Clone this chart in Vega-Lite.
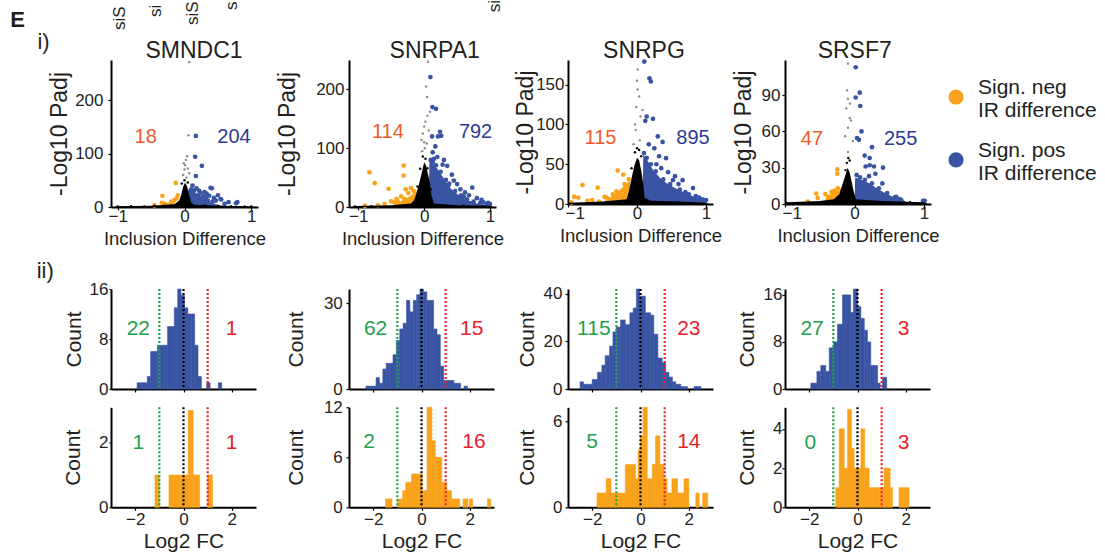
{
"$schema": "https://vega.github.io/schema/vega-lite/v6.json",
"padding": {"left": 10, "top": 0, "right": 3, "bottom": 4},
"config": {
  "font": "Liberation Sans",
  "view": {"stroke": null},
  "axis": {"grid": false, "domainColor": "#000000", "domainWidth": 2, "tickColor": "#000000", "tickWidth": 1.2, "tickSize": 3, "labelFontSize": 17, "labelColor": "#231f20", "titleColor": "#231f20", "titleFontWeight": "normal", "zindex": 1, "labelFlush": false, "labelOverlap": false, "format": "d"}
},
"datasets": {
  "vp": [
    {"p":"SMNDC1","g":"pos","x":0.17,"y":133},{"p":"SMNDC1","g":"pos","x":0.16,"y":94},{"p":"SMNDC1","g":"pos","x":0.26,"y":77},{"p":"SMNDC1","g":"pos","x":0.17,"y":58},{"p":"SMNDC1","g":"pos","x":0.39,"y":36},{"p":"SMNDC1","g":"pos","x":0.55,"y":14},{"p":"SMNDC1","g":"pos","x":0.77,"y":7},{"p":"SMNDC1","g":"pos","x":0.41,"y":35},{"p":"SMNDC1","g":"pos","x":0.37,"y":21},{"p":"SMNDC1","g":"pos","x":0.44,"y":17},{"p":"SMNDC1","g":"pos","x":0.54,"y":15},{"p":"SMNDC1","g":"pos","x":0.66,"y":9},{"p":"SMNDC1","g":"pos","x":0.79,"y":9},{"p":"SMNDC1","g":"pos","x":0.3,"y":28},{"p":"SMNDC1","g":"pos","x":0.22,"y":30},{"p":"SMNDC1","g":"pos","x":0.12,"y":40},{"p":"SMNDC1","g":"pos","x":0.2,"y":22},{"p":"SMNDC1","g":"pos","x":0.28,"y":20},{"p":"SMNDC1","g":"pos","x":0.33,"y":25},{"p":"SMNDC1","g":"pos","x":0.47,"y":12},{"p":"SMNDC1","g":"pos","x":0.6,"y":6},{"p":"SMNDC1","g":"pos","x":0.35,"y":12},{"p":"SMNDC1","g":"pos","x":0.25,"y":14},{"p":"SMNDC1","g":"pos","x":0.5,"y":22},{"p":"SMNDC1","g":"pos","x":0.13,"y":25},{"p":"SMNDC1","g":"pos","x":0.1,"y":33},{"p":"SMNDC1","g":"pos","x":0.18,"y":35},{"p":"SMNDC1","g":"pos","x":0.24,"y":26},{"p":"SMNDC1","g":"pos","x":0.08,"y":28},{"p":"SMNDC1","g":"pos","x":0.14,"y":30},{"p":"SMNDC1","g":"pos","x":0.32,"y":17},{"p":"SMNDC1","g":"pos","x":0.42,"y":10},
    {"p":"SMNDC1","g":"neg","x":-0.13,"y":45},{"p":"SMNDC1","g":"neg","x":-0.33,"y":21},{"p":"SMNDC1","g":"neg","x":-0.1,"y":22},{"p":"SMNDC1","g":"neg","x":-0.34,"y":8},{"p":"SMNDC1","g":"neg","x":-0.3,"y":6},{"p":"SMNDC1","g":"neg","x":-0.15,"y":13},{"p":"SMNDC1","g":"neg","x":-0.2,"y":10},{"p":"SMNDC1","g":"neg","x":-0.12,"y":16},{"p":"SMNDC1","g":"neg","x":-0.25,"y":4},{"p":"SMNDC1","g":"neg","x":-0.45,"y":3},{"p":"SMNDC1","g":"neg","x":-0.18,"y":6},
    {"p":"SMNDC1","g":"grey","x":0.07,"y":271},{"p":"SMNDC1","g":"grey","x":0.06,"y":134},{"p":"SMNDC1","g":"grey","x":0.02,"y":88},{"p":"SMNDC1","g":"grey","x":0.01,"y":78},{"p":"SMNDC1","g":"grey","x":-0.01,"y":82},{"p":"SMNDC1","g":"grey","x":0.07,"y":63},{"p":"SMNDC1","g":"grey","x":0.0,"y":70},{"p":"SMNDC1","g":"grey","x":0.04,"y":95},{"p":"SMNDC1","g":"grey","x":-0.02,"y":60},{"p":"SMNDC1","g":"grey","x":0.03,"y":55},{"p":"SMNDC1","g":"grey","x":0.05,"y":72},
    {"p":"SMNDC1","g":"black","x":-1.0,"y":1},{"p":"SMNDC1","g":"black","x":-0.8,"y":1.5},{"p":"SMNDC1","g":"black","x":-0.6,"y":1},{"p":"SMNDC1","g":"black","x":-0.45,"y":2},{"p":"SMNDC1","g":"black","x":-0.3,"y":2.5},{"p":"SMNDC1","g":"black","x":-0.2,"y":3},{"p":"SMNDC1","g":"black","x":0.3,"y":3},{"p":"SMNDC1","g":"black","x":0.5,"y":2},{"p":"SMNDC1","g":"black","x":0.7,"y":1.5},{"p":"SMNDC1","g":"black","x":0.9,"y":1},{"p":"SMNDC1","g":"black","x":1.0,"y":1},{"p":"SMNDC1","g":"black","x":0.0,"y":50},{"p":"SMNDC1","g":"black","x":-0.04,"y":44},{"p":"SMNDC1","g":"black","x":0.05,"y":46},

    {"p":"SNRPA1","g":"pos","x":0.095,"y":221},{"p":"SNRPA1","g":"pos","x":0.126,"y":170},{"p":"SNRPA1","g":"pos","x":0.18,"y":167},{"p":"SNRPA1","g":"pos","x":0.24,"y":128},{"p":"SNRPA1","g":"pos","x":0.21,"y":120},{"p":"SNRPA1","g":"pos","x":0.26,"y":121},{"p":"SNRPA1","g":"pos","x":0.12,"y":120},{"p":"SNRPA1","g":"pos","x":0.17,"y":103},{"p":"SNRPA1","g":"pos","x":0.13,"y":93},{"p":"SNRPA1","g":"pos","x":0.73,"y":33},{"p":"SNRPA1","g":"pos","x":0.5,"y":39},{"p":"SNRPA1","g":"pos","x":0.97,"y":7},{"p":"SNRPA1","g":"pos","x":0.87,"y":12},{"p":"SNRPA1","g":"pos","x":0.3,"y":80},{"p":"SNRPA1","g":"pos","x":0.35,"y":70},{"p":"SNRPA1","g":"pos","x":0.42,"y":55},{"p":"SNRPA1","g":"pos","x":0.2,"y":85},{"p":"SNRPA1","g":"pos","x":0.55,"y":30},{"p":"SNRPA1","g":"pos","x":0.62,"y":25},{"p":"SNRPA1","g":"pos","x":0.68,"y":20},{"p":"SNRPA1","g":"pos","x":0.8,"y":15},{"p":"SNRPA1","g":"pos","x":0.9,"y":8},{"p":"SNRPA1","g":"pos","x":1.0,"y":5},{"p":"SNRPA1","g":"pos","x":0.45,"y":45},{"p":"SNRPA1","g":"pos","x":0.28,"y":72},{"p":"SNRPA1","g":"pos","x":0.6,"y":18},{"p":"SNRPA1","g":"pos","x":0.38,"y":40},{"p":"SNRPA1","g":"pos","x":0.15,"y":82},{"p":"SNRPA1","g":"pos","x":0.1,"y":80},{"p":"SNRPA1","g":"pos","x":0.13,"y":76},{"p":"SNRPA1","g":"pos","x":0.18,"y":71},{"p":"SNRPA1","g":"pos","x":0.25,"y":60},{"p":"SNRPA1","g":"pos","x":0.33,"y":46},{"p":"SNRPA1","g":"pos","x":0.37,"y":37},{"p":"SNRPA1","g":"pos","x":0.47,"y":27},{"p":"SNRPA1","g":"pos","x":0.56,"y":20},{"p":"SNRPA1","g":"pos","x":0.65,"y":13},{"p":"SNRPA1","g":"pos","x":0.75,"y":9},{"p":"SNRPA1","g":"pos","x":0.85,"y":7},{"p":"SNRPA1","g":"pos","x":0.95,"y":5},
    {"p":"SNRPA1","g":"neg","x":-0.31,"y":70.5},{"p":"SNRPA1","g":"neg","x":-0.83,"y":59},{"p":"SNRPA1","g":"neg","x":-0.75,"y":40.6},{"p":"SNRPA1","g":"neg","x":-0.54,"y":31},{"p":"SNRPA1","g":"neg","x":-0.31,"y":53.6},{"p":"SNRPA1","g":"neg","x":-0.42,"y":14},{"p":"SNRPA1","g":"neg","x":-0.24,"y":23.7},{"p":"SNRPA1","g":"neg","x":-0.5,"y":9.5},{"p":"SNRPA1","g":"neg","x":-0.6,"y":5},{"p":"SNRPA1","g":"neg","x":-0.7,"y":3},{"p":"SNRPA1","g":"neg","x":-0.35,"y":18},{"p":"SNRPA1","g":"neg","x":-0.28,"y":30},{"p":"SNRPA1","g":"neg","x":-0.2,"y":32},{"p":"SNRPA1","g":"neg","x":-0.45,"y":8},{"p":"SNRPA1","g":"neg","x":-0.9,"y":2},{"p":"SNRPA1","g":"neg","x":-0.4,"y":9},{"p":"SNRPA1","g":"neg","x":-0.3,"y":14},{"p":"SNRPA1","g":"neg","x":-0.16,"y":27},
    {"p":"SNRPA1","g":"grey","x":0.06,"y":247},{"p":"SNRPA1","g":"grey","x":0.045,"y":187},{"p":"SNRPA1","g":"grey","x":0.02,"y":145},{"p":"SNRPA1","g":"grey","x":0.0,"y":137},{"p":"SNRPA1","g":"grey","x":-0.04,"y":114},{"p":"SNRPA1","g":"grey","x":0.01,"y":100},{"p":"SNRPA1","g":"grey","x":0.09,"y":162},{"p":"SNRPA1","g":"grey","x":0.03,"y":205},{"p":"SNRPA1","g":"grey","x":0.05,"y":155},{"p":"SNRPA1","g":"grey","x":-0.02,"y":125},{"p":"SNRPA1","g":"grey","x":0.04,"y":108},{"p":"SNRPA1","g":"grey","x":-0.03,"y":95},{"p":"SNRPA1","g":"grey","x":0.07,"y":130},{"p":"SNRPA1","g":"grey","x":0.0,"y":110},
    {"p":"SNRPA1","g":"black","x":-0.02,"y":86},{"p":"SNRPA1","g":"black","x":0.02,"y":82},{"p":"SNRPA1","g":"black","x":-0.06,"y":65},{"p":"SNRPA1","g":"black","x":0.05,"y":66},{"p":"SNRPA1","g":"black","x":-0.1,"y":35},{"p":"SNRPA1","g":"black","x":0.1,"y":30},{"p":"SNRPA1","g":"black","x":-1.05,"y":1},{"p":"SNRPA1","g":"black","x":-0.8,"y":1.5},{"p":"SNRPA1","g":"black","x":0.6,"y":2},{"p":"SNRPA1","g":"black","x":0.9,"y":1.5},

    {"p":"SNRPG","g":"pos","x":0.105,"y":179},{"p":"SNRPG","g":"pos","x":0.18,"y":158},{"p":"SNRPG","g":"pos","x":0.2,"y":154},{"p":"SNRPG","g":"pos","x":0.12,"y":104.5},{"p":"SNRPG","g":"pos","x":0.23,"y":107},{"p":"SNRPG","g":"pos","x":0.3,"y":85},{"p":"SNRPG","g":"pos","x":0.37,"y":78},{"p":"SNRPG","g":"pos","x":0.17,"y":75},{"p":"SNRPG","g":"pos","x":0.42,"y":57.6},{"p":"SNRPG","g":"pos","x":0.52,"y":30},{"p":"SNRPG","g":"pos","x":0.66,"y":30},{"p":"SNRPG","g":"pos","x":0.81,"y":20},{"p":"SNRPG","g":"pos","x":1.0,"y":5},{"p":"SNRPG","g":"pos","x":0.25,"y":70},{"p":"SNRPG","g":"pos","x":0.32,"y":60},{"p":"SNRPG","g":"pos","x":0.28,"y":50},{"p":"SNRPG","g":"pos","x":0.45,"y":40},{"p":"SNRPG","g":"pos","x":0.6,"y":25},{"p":"SNRPG","g":"pos","x":0.7,"y":15},{"p":"SNRPG","g":"pos","x":0.9,"y":8},{"p":"SNRPG","g":"pos","x":0.14,"y":110},{"p":"SNRPG","g":"pos","x":0.35,"y":45},{"p":"SNRPG","g":"pos","x":0.55,"y":35},{"p":"SNRPG","g":"pos","x":0.75,"y":12},{"p":"SNRPG","g":"pos","x":0.1,"y":64},{"p":"SNRPG","g":"pos","x":0.14,"y":58},{"p":"SNRPG","g":"pos","x":0.2,"y":50},{"p":"SNRPG","g":"pos","x":0.27,"y":41},{"p":"SNRPG","g":"pos","x":0.38,"y":31},{"p":"SNRPG","g":"pos","x":0.48,"y":25},{"p":"SNRPG","g":"pos","x":0.62,"y":18},{"p":"SNRPG","g":"pos","x":0.85,"y":10},{"p":"SNRPG","g":"pos","x":0.95,"y":6},
    {"p":"SNRPG","g":"neg","x":-0.28,"y":42},{"p":"SNRPG","g":"neg","x":-0.79,"y":24},{"p":"SNRPG","g":"neg","x":-0.57,"y":20.5},{"p":"SNRPG","g":"neg","x":-0.91,"y":9},{"p":"SNRPG","g":"neg","x":-0.85,"y":8},{"p":"SNRPG","g":"neg","x":-0.47,"y":9},{"p":"SNRPG","g":"neg","x":-0.2,"y":37},{"p":"SNRPG","g":"neg","x":-0.65,"y":5},{"p":"SNRPG","g":"neg","x":-0.72,"y":4},{"p":"SNRPG","g":"neg","x":-0.35,"y":12},{"p":"SNRPG","g":"neg","x":-0.4,"y":6},{"p":"SNRPG","g":"neg","x":-0.55,"y":3},{"p":"SNRPG","g":"neg","x":-0.95,"y":2},{"p":"SNRPG","g":"neg","x":-0.44,"y":8},{"p":"SNRPG","g":"neg","x":-0.3,"y":16},{"p":"SNRPG","g":"neg","x":-0.18,"y":25},{"p":"SNRPG","g":"neg","x":-0.12,"y":31},
    {"p":"SNRPG","g":"grey","x":0.01,"y":169},{"p":"SNRPG","g":"grey","x":0.01,"y":144},{"p":"SNRPG","g":"grey","x":-0.01,"y":122},{"p":"SNRPG","g":"grey","x":0.08,"y":118},{"p":"SNRPG","g":"grey","x":-0.02,"y":93},{"p":"SNRPG","g":"grey","x":0.03,"y":135},{"p":"SNRPG","g":"grey","x":0.05,"y":110},{"p":"SNRPG","g":"grey","x":-0.03,"y":100},{"p":"SNRPG","g":"grey","x":0.0,"y":155},{"p":"SNRPG","g":"grey","x":0.04,"y":80},{"p":"SNRPG","g":"grey","x":-0.05,"y":75},
    {"p":"SNRPG","g":"black","x":0.0,"y":70},{"p":"SNRPG","g":"black","x":-0.03,"y":65},{"p":"SNRPG","g":"black","x":0.03,"y":68},{"p":"SNRPG","g":"black","x":0.06,"y":60},{"p":"SNRPG","g":"black","x":-0.08,"y":45},{"p":"SNRPG","g":"black","x":-0.98,"y":1},{"p":"SNRPG","g":"black","x":0.6,"y":2},

    {"p":"SRSF7","g":"pos","x":0.017,"y":113},{"p":"SRSF7","g":"pos","x":0.075,"y":92},{"p":"SRSF7","g":"pos","x":0.017,"y":88},{"p":"SRSF7","g":"pos","x":0.083,"y":81},{"p":"SRSF7","g":"pos","x":0.064,"y":53},{"p":"SRSF7","g":"pos","x":0.251,"y":47},{"p":"SRSF7","g":"pos","x":0.146,"y":40},{"p":"SRSF7","g":"pos","x":0.218,"y":32},{"p":"SRSF7","g":"pos","x":0.4,"y":17},{"p":"SRSF7","g":"pos","x":0.673,"y":3.3},{"p":"SRSF7","g":"pos","x":0.985,"y":2.7},{"p":"SRSF7","g":"pos","x":0.41,"y":30},{"p":"SRSF7","g":"pos","x":0.208,"y":23},{"p":"SRSF7","g":"pos","x":0.65,"y":4},{"p":"SRSF7","g":"pos","x":1.01,"y":2.7},{"p":"SRSF7","g":"pos","x":0.036,"y":54.5},{"p":"SRSF7","g":"pos","x":0.218,"y":38},{"p":"SRSF7","g":"pos","x":0.28,"y":31},{"p":"SRSF7","g":"pos","x":0.16,"y":31},{"p":"SRSF7","g":"pos","x":0.43,"y":7},{"p":"SRSF7","g":"pos","x":0.58,"y":5.4},{"p":"SRSF7","g":"pos","x":0.1,"y":60},{"p":"SRSF7","g":"pos","x":0.3,"y":25},{"p":"SRSF7","g":"pos","x":0.03,"y":24},{"p":"SRSF7","g":"pos","x":0.08,"y":22},{"p":"SRSF7","g":"pos","x":0.15,"y":20},{"p":"SRSF7","g":"pos","x":0.25,"y":17},{"p":"SRSF7","g":"pos","x":0.35,"y":13},{"p":"SRSF7","g":"pos","x":0.47,"y":9},{"p":"SRSF7","g":"pos","x":0.6,"y":6},
    {"p":"SRSF7","g":"neg","x":-0.248,"y":28.6},{"p":"SRSF7","g":"neg","x":-0.248,"y":25},{"p":"SRSF7","g":"neg","x":-0.55,"y":8.7},{"p":"SRSF7","g":"neg","x":-0.42,"y":8.2},{"p":"SRSF7","g":"neg","x":-0.285,"y":11},{"p":"SRSF7","g":"neg","x":-0.67,"y":2},{"p":"SRSF7","g":"neg","x":-0.38,"y":6},{"p":"SRSF7","g":"neg","x":-0.19,"y":11},{"p":"SRSF7","g":"neg","x":-0.53,"y":5},{"p":"SRSF7","g":"neg","x":-0.33,"y":10},{"p":"SRSF7","g":"neg","x":-0.24,"y":13},
    {"p":"SRSF7","g":"grey","x":-0.094,"y":116},{"p":"SRSF7","g":"grey","x":-0.094,"y":87},{"p":"SRSF7","g":"grey","x":-0.118,"y":79},{"p":"SRSF7","g":"grey","x":-0.069,"y":71},{"p":"SRSF7","g":"grey","x":-0.094,"y":63},{"p":"SRSF7","g":"grey","x":-0.022,"y":52},{"p":"SRSF7","g":"grey","x":-0.094,"y":43},{"p":"SRSF7","g":"grey","x":-0.05,"y":69},{"p":"SRSF7","g":"grey","x":-0.137,"y":56},{"p":"SRSF7","g":"grey","x":-0.065,"y":83},{"p":"SRSF7","g":"grey","x":-0.108,"y":94},
    {"p":"SRSF7","g":"black","x":-0.09,"y":38},{"p":"SRSF7","g":"black","x":-0.11,"y":34},{"p":"SRSF7","g":"black","x":-0.07,"y":36},{"p":"SRSF7","g":"black","x":-0.13,"y":28},{"p":"SRSF7","g":"black","x":-0.98,"y":1},{"p":"SRSF7","g":"black","x":0.8,"y":1.5}
  ],
  "env": [
    {"p":"SMNDC1","g":"pos","x":0.06,"y":0},{"p":"SMNDC1","g":"pos","x":0.07,"y":26},{"p":"SMNDC1","g":"pos","x":0.12,"y":28},{"p":"SMNDC1","g":"pos","x":0.2,"y":24},{"p":"SMNDC1","g":"pos","x":0.3,"y":15},{"p":"SMNDC1","g":"pos","x":0.4,"y":8},{"p":"SMNDC1","g":"pos","x":0.5,"y":4},{"p":"SMNDC1","g":"pos","x":0.6,"y":2},{"p":"SMNDC1","g":"pos","x":0.7,"y":0},
    {"p":"SMNDC1","g":"black","x":-1.05,"y":0},{"p":"SMNDC1","g":"black","x":-1.0,"y":1.5},{"p":"SMNDC1","g":"black","x":-0.5,"y":2.5},{"p":"SMNDC1","g":"black","x":-0.15,"y":5},{"p":"SMNDC1","g":"black","x":-0.08,"y":12},{"p":"SMNDC1","g":"black","x":-0.05,"y":22},{"p":"SMNDC1","g":"black","x":-0.02,"y":38},{"p":"SMNDC1","g":"black","x":0.01,"y":46},{"p":"SMNDC1","g":"black","x":0.04,"y":38},{"p":"SMNDC1","g":"black","x":0.07,"y":22},{"p":"SMNDC1","g":"black","x":0.1,"y":8},{"p":"SMNDC1","g":"black","x":0.15,"y":4},{"p":"SMNDC1","g":"black","x":0.5,"y":2.5},{"p":"SMNDC1","g":"black","x":1.0,"y":1.5},{"p":"SMNDC1","g":"black","x":1.05,"y":0},
    {"p":"SNRPA1","g":"pos","x":0.07,"y":0},{"p":"SNRPA1","g":"pos","x":0.08,"y":78},{"p":"SNRPA1","g":"pos","x":0.15,"y":72},{"p":"SNRPA1","g":"pos","x":0.22,"y":62},{"p":"SNRPA1","g":"pos","x":0.3,"y":48},{"p":"SNRPA1","g":"pos","x":0.4,"y":32},{"p":"SNRPA1","g":"pos","x":0.5,"y":22},{"p":"SNRPA1","g":"pos","x":0.6,"y":15},{"p":"SNRPA1","g":"pos","x":0.7,"y":10},{"p":"SNRPA1","g":"pos","x":0.8,"y":6},{"p":"SNRPA1","g":"pos","x":0.9,"y":4},{"p":"SNRPA1","g":"pos","x":1.0,"y":3},{"p":"SNRPA1","g":"pos","x":1.02,"y":0},
    {"p":"SNRPA1","g":"neg","x":-0.5,"y":0},{"p":"SNRPA1","g":"neg","x":-0.45,"y":4},{"p":"SNRPA1","g":"neg","x":-0.35,"y":10},{"p":"SNRPA1","g":"neg","x":-0.25,"y":16},{"p":"SNRPA1","g":"neg","x":-0.15,"y":24},{"p":"SNRPA1","g":"neg","x":-0.11,"y":28},{"p":"SNRPA1","g":"neg","x":-0.1,"y":0},
    {"p":"SNRPA1","g":"black","x":-1.1,"y":0},{"p":"SNRPA1","g":"black","x":-1.05,"y":1.5},{"p":"SNRPA1","g":"black","x":-0.5,"y":3},{"p":"SNRPA1","g":"black","x":-0.2,"y":6},{"p":"SNRPA1","g":"black","x":-0.15,"y":12},{"p":"SNRPA1","g":"black","x":-0.12,"y":22},{"p":"SNRPA1","g":"black","x":-0.08,"y":38},{"p":"SNRPA1","g":"black","x":-0.04,"y":56},{"p":"SNRPA1","g":"black","x":0.0,"y":76},{"p":"SNRPA1","g":"black","x":0.03,"y":70},{"p":"SNRPA1","g":"black","x":0.06,"y":55},{"p":"SNRPA1","g":"black","x":0.09,"y":40},{"p":"SNRPA1","g":"black","x":0.11,"y":20},{"p":"SNRPA1","g":"black","x":0.15,"y":6},{"p":"SNRPA1","g":"black","x":0.5,"y":3},{"p":"SNRPA1","g":"black","x":1.0,"y":2},{"p":"SNRPA1","g":"black","x":1.05,"y":0},
    {"p":"SNRPG","g":"pos","x":0.08,"y":0},{"p":"SNRPG","g":"pos","x":0.09,"y":62},{"p":"SNRPG","g":"pos","x":0.15,"y":55},{"p":"SNRPG","g":"pos","x":0.23,"y":43},{"p":"SNRPG","g":"pos","x":0.33,"y":33},{"p":"SNRPG","g":"pos","x":0.43,"y":26},{"p":"SNRPG","g":"pos","x":0.55,"y":20},{"p":"SNRPG","g":"pos","x":0.67,"y":15},{"p":"SNRPG","g":"pos","x":0.8,"y":10},{"p":"SNRPG","g":"pos","x":0.91,"y":7},{"p":"SNRPG","g":"pos","x":1.0,"y":3},{"p":"SNRPG","g":"pos","x":1.02,"y":0},
    {"p":"SNRPG","g":"neg","x":-0.5,"y":0},{"p":"SNRPG","g":"neg","x":-0.45,"y":5},{"p":"SNRPG","g":"neg","x":-0.35,"y":10},{"p":"SNRPG","g":"neg","x":-0.25,"y":18},{"p":"SNRPG","g":"neg","x":-0.15,"y":26},{"p":"SNRPG","g":"neg","x":-0.1,"y":30},{"p":"SNRPG","g":"neg","x":-0.08,"y":0},
    {"p":"SNRPG","g":"black","x":-1.0,"y":0},{"p":"SNRPG","g":"black","x":-0.98,"y":1.5},{"p":"SNRPG","g":"black","x":-0.5,"y":3},{"p":"SNRPG","g":"black","x":-0.15,"y":6},{"p":"SNRPG","g":"black","x":-0.12,"y":15},{"p":"SNRPG","g":"black","x":-0.08,"y":32},{"p":"SNRPG","g":"black","x":-0.04,"y":48},{"p":"SNRPG","g":"black","x":0.0,"y":58},{"p":"SNRPG","g":"black","x":0.03,"y":55},{"p":"SNRPG","g":"black","x":0.06,"y":42},{"p":"SNRPG","g":"black","x":0.09,"y":25},{"p":"SNRPG","g":"black","x":0.11,"y":8},{"p":"SNRPG","g":"black","x":0.2,"y":4},{"p":"SNRPG","g":"black","x":0.6,"y":3},{"p":"SNRPG","g":"black","x":1.0,"y":1.5},{"p":"SNRPG","g":"black","x":1.05,"y":0},
    {"p":"SRSF7","g":"pos","x":0.0,"y":0},{"p":"SRSF7","g":"pos","x":0.01,"y":22},{"p":"SRSF7","g":"pos","x":0.1,"y":20},{"p":"SRSF7","g":"pos","x":0.22,"y":17},{"p":"SRSF7","g":"pos","x":0.32,"y":13},{"p":"SRSF7","g":"pos","x":0.41,"y":10},{"p":"SRSF7","g":"pos","x":0.55,"y":6},{"p":"SRSF7","g":"pos","x":0.7,"y":3},{"p":"SRSF7","g":"pos","x":0.8,"y":0},
    {"p":"SRSF7","g":"neg","x":-0.45,"y":0},{"p":"SRSF7","g":"neg","x":-0.4,"y":6},{"p":"SRSF7","g":"neg","x":-0.3,"y":10},{"p":"SRSF7","g":"neg","x":-0.22,"y":12},{"p":"SRSF7","g":"neg","x":-0.2,"y":0},
    {"p":"SRSF7","g":"black","x":-1.0,"y":0},{"p":"SRSF7","g":"black","x":-0.98,"y":1.5},{"p":"SRSF7","g":"black","x":-0.5,"y":2.5},{"p":"SRSF7","g":"black","x":-0.3,"y":4},{"p":"SRSF7","g":"black","x":-0.22,"y":8},{"p":"SRSF7","g":"black","x":-0.18,"y":15},{"p":"SRSF7","g":"black","x":-0.13,"y":24},{"p":"SRSF7","g":"black","x":-0.1,"y":30},{"p":"SRSF7","g":"black","x":-0.07,"y":26},{"p":"SRSF7","g":"black","x":-0.04,"y":18},{"p":"SRSF7","g":"black","x":-0.01,"y":10},{"p":"SRSF7","g":"black","x":0.02,"y":4},{"p":"SRSF7","g":"black","x":0.4,"y":2.5},{"p":"SRSF7","g":"black","x":1.0,"y":1.5},{"p":"SRSF7","g":"black","x":1.05,"y":0}
  ],
  "vn": [
    {"p":"SMNDC1","g":"neg","x":-0.58,"y":131,"t":"18"},{"p":"SMNDC1","g":"pos","x":0.74,"y":131,"t":"204"},
    {"p":"SNRPA1","g":"neg","x":-0.55,"y":128,"t":"114"},{"p":"SNRPA1","g":"pos","x":0.78,"y":128,"t":"792"},
    {"p":"SNRPG","g":"neg","x":-0.53,"y":83,"t":"115"},{"p":"SNRPG","g":"pos","x":0.81,"y":83,"t":"895"},
    {"p":"SRSF7","g":"neg","x":-0.612,"y":54,"t":"47"},{"p":"SRSF7","g":"pos","x":0.664,"y":54,"t":"255"}
  ],
  "hb": [
    {"p":"SMNDC1","s":"pos","x0":-1.92,"x1":-1.78,"c":1},{"p":"SMNDC1","s":"pos","x0":-1.78,"x1":-1.64,"c":1},{"p":"SMNDC1","s":"pos","x0":-1.64,"x1":-1.5,"c":1},{"p":"SMNDC1","s":"pos","x0":-1.5,"x1":-1.36,"c":2},{"p":"SMNDC1","s":"pos","x0":-1.36,"x1":-1.22,"c":6},{"p":"SMNDC1","s":"pos","x0":-1.22,"x1":-1.08,"c":6},{"p":"SMNDC1","s":"pos","x0":-1.08,"x1":-0.94,"c":7},{"p":"SMNDC1","s":"pos","x0":-0.94,"x1":-0.8,"c":7},{"p":"SMNDC1","s":"pos","x0":-0.8,"x1":-0.66,"c":7},{"p":"SMNDC1","s":"pos","x0":-0.66,"x1":-0.52,"c":10},{"p":"SMNDC1","s":"pos","x0":-0.52,"x1":-0.38,"c":10},{"p":"SMNDC1","s":"pos","x0":-0.38,"x1":-0.24,"c":13},{"p":"SMNDC1","s":"pos","x0":-0.24,"x1":-0.1,"c":16},{"p":"SMNDC1","s":"pos","x0":-0.1,"x1":0.04,"c":15},{"p":"SMNDC1","s":"pos","x0":0.04,"x1":0.18,"c":13},{"p":"SMNDC1","s":"pos","x0":0.18,"x1":0.32,"c":12},{"p":"SMNDC1","s":"pos","x0":0.32,"x1":0.46,"c":12},{"p":"SMNDC1","s":"pos","x0":0.46,"x1":0.6,"c":7},{"p":"SMNDC1","s":"pos","x0":0.6,"x1":0.74,"c":2},{"p":"SMNDC1","s":"pos","x0":0.96,"x1":1.1,"c":1},{"p":"SMNDC1","s":"pos","x0":1.44,"x1":1.58,"c":1},
    {"p":"SMNDC1","s":"neg","x0":-1.18,"x1":-1.0,"c":1},{"p":"SMNDC1","s":"neg","x0":-0.6,"x1":0.19,"c":1},{"p":"SMNDC1","s":"neg","x0":0.19,"x1":0.4,"c":3},{"p":"SMNDC1","s":"neg","x0":0.4,"x1":0.67,"c":1},{"p":"SMNDC1","s":"neg","x0":1.0,"x1":1.2,"c":1},
    {"p":"SNRPA1","s":"pos","x0":-2.3,"x1":-2.16,"c":1},{"p":"SNRPA1","s":"pos","x0":-2.16,"x1":-2.02,"c":1},{"p":"SNRPA1","s":"pos","x0":-2.02,"x1":-1.88,"c":1},{"p":"SNRPA1","s":"pos","x0":-1.88,"x1":-1.74,"c":4},{"p":"SNRPA1","s":"pos","x0":-1.74,"x1":-1.6,"c":2},{"p":"SNRPA1","s":"pos","x0":-1.6,"x1":-1.46,"c":7},{"p":"SNRPA1","s":"pos","x0":-1.46,"x1":-1.32,"c":9},{"p":"SNRPA1","s":"pos","x0":-1.32,"x1":-1.18,"c":9},{"p":"SNRPA1","s":"pos","x0":-1.18,"x1":-1.04,"c":12},{"p":"SNRPA1","s":"pos","x0":-1.04,"x1":-0.9,"c":17},{"p":"SNRPA1","s":"pos","x0":-0.9,"x1":-0.76,"c":21},{"p":"SNRPA1","s":"pos","x0":-0.76,"x1":-0.62,"c":23},{"p":"SNRPA1","s":"pos","x0":-0.62,"x1":-0.48,"c":31},{"p":"SNRPA1","s":"pos","x0":-0.48,"x1":-0.34,"c":27},{"p":"SNRPA1","s":"pos","x0":-0.34,"x1":-0.2,"c":31},{"p":"SNRPA1","s":"pos","x0":-0.2,"x1":-0.06,"c":33},{"p":"SNRPA1","s":"pos","x0":-0.06,"x1":0.08,"c":35},{"p":"SNRPA1","s":"pos","x0":0.08,"x1":0.22,"c":34},{"p":"SNRPA1","s":"pos","x0":0.22,"x1":0.36,"c":31},{"p":"SNRPA1","s":"pos","x0":0.36,"x1":0.5,"c":31},{"p":"SNRPA1","s":"pos","x0":0.5,"x1":0.64,"c":21},{"p":"SNRPA1","s":"pos","x0":0.64,"x1":0.78,"c":19},{"p":"SNRPA1","s":"pos","x0":0.78,"x1":0.92,"c":8},{"p":"SNRPA1","s":"pos","x0":0.92,"x1":1.06,"c":3},{"p":"SNRPA1","s":"pos","x0":1.06,"x1":1.2,"c":3},{"p":"SNRPA1","s":"pos","x0":1.2,"x1":1.34,"c":3},{"p":"SNRPA1","s":"pos","x0":1.34,"x1":1.48,"c":2},{"p":"SNRPA1","s":"pos","x0":1.48,"x1":1.62,"c":2},{"p":"SNRPA1","s":"pos","x0":1.76,"x1":1.9,"c":1},
    {"p":"SNRPA1","s":"neg","x0":-1.49,"x1":-1.22,"c":1},{"p":"SNRPA1","s":"neg","x0":-0.99,"x1":-0.78,"c":1},{"p":"SNRPA1","s":"neg","x0":-0.78,"x1":-0.65,"c":2},{"p":"SNRPA1","s":"neg","x0":-0.65,"x1":-0.41,"c":3},{"p":"SNRPA1","s":"neg","x0":-0.41,"x1":0.03,"c":4},{"p":"SNRPA1","s":"neg","x0":0.03,"x1":0.23,"c":2},{"p":"SNRPA1","s":"neg","x0":0.23,"x1":0.43,"c":12},{"p":"SNRPA1","s":"neg","x0":0.43,"x1":0.57,"c":8},{"p":"SNRPA1","s":"neg","x0":0.57,"x1":0.84,"c":6},{"p":"SNRPA1","s":"neg","x0":0.84,"x1":1.04,"c":3},{"p":"SNRPA1","s":"neg","x0":1.04,"x1":1.24,"c":2},{"p":"SNRPA1","s":"neg","x0":1.24,"x1":1.58,"c":1},{"p":"SNRPA1","s":"neg","x0":1.72,"x1":1.92,"c":1},{"p":"SNRPA1","s":"neg","x0":1.99,"x1":2.12,"c":1},{"p":"SNRPA1","s":"neg","x0":2.73,"x1":2.86,"c":1},
    {"p":"SNRPG","s":"pos","x0":-2.5,"x1":-2.36,"c":3},{"p":"SNRPG","s":"pos","x0":-2.36,"x1":-2.22,"c":2},{"p":"SNRPG","s":"pos","x0":-2.22,"x1":-2.0,"c":2},{"p":"SNRPG","s":"pos","x0":-2.0,"x1":-1.78,"c":4},{"p":"SNRPG","s":"pos","x0":-1.78,"x1":-1.6,"c":7},{"p":"SNRPG","s":"pos","x0":-1.6,"x1":-1.46,"c":10},{"p":"SNRPG","s":"pos","x0":-1.46,"x1":-1.28,"c":14},{"p":"SNRPG","s":"pos","x0":-1.28,"x1":-1.14,"c":18},{"p":"SNRPG","s":"pos","x0":-1.14,"x1":-1.0,"c":24},{"p":"SNRPG","s":"pos","x0":-1.0,"x1":-0.83,"c":26},{"p":"SNRPG","s":"pos","x0":-0.83,"x1":-0.63,"c":29},{"p":"SNRPG","s":"pos","x0":-0.63,"x1":-0.44,"c":27},{"p":"SNRPG","s":"pos","x0":-0.44,"x1":-0.3,"c":32},{"p":"SNRPG","s":"pos","x0":-0.3,"x1":-0.17,"c":34},{"p":"SNRPG","s":"pos","x0":-0.17,"x1":-0.03,"c":42},{"p":"SNRPG","s":"pos","x0":-0.03,"x1":0.2,"c":39},{"p":"SNRPG","s":"pos","x0":0.2,"x1":0.42,"c":32},{"p":"SNRPG","s":"pos","x0":0.42,"x1":0.55,"c":31},{"p":"SNRPG","s":"pos","x0":0.55,"x1":0.72,"c":23},{"p":"SNRPG","s":"pos","x0":0.72,"x1":0.9,"c":13},{"p":"SNRPG","s":"pos","x0":0.9,"x1":1.04,"c":11},{"p":"SNRPG","s":"pos","x0":1.04,"x1":1.18,"c":7},{"p":"SNRPG","s":"pos","x0":1.18,"x1":1.32,"c":5},{"p":"SNRPG","s":"pos","x0":1.32,"x1":1.46,"c":3},{"p":"SNRPG","s":"pos","x0":1.46,"x1":1.67,"c":2},{"p":"SNRPG","s":"pos","x0":1.67,"x1":1.94,"c":1},{"p":"SNRPG","s":"pos","x0":2.22,"x1":2.5,"c":1},
    {"p":"SNRPG","s":"neg","x0":-1.8,"x1":-1.6,"c":1},{"p":"SNRPG","s":"neg","x0":-1.6,"x1":-1.42,"c":1},{"p":"SNRPG","s":"neg","x0":-1.42,"x1":-1.22,"c":2},{"p":"SNRPG","s":"neg","x0":-1.22,"x1":-1.04,"c":1},{"p":"SNRPG","s":"neg","x0":-1.04,"x1":-0.63,"c":1},{"p":"SNRPG","s":"neg","x0":-0.63,"x1":-0.2,"c":3},{"p":"SNRPG","s":"neg","x0":-0.2,"x1":-0.1,"c":2},{"p":"SNRPG","s":"neg","x0":-0.1,"x1":0.0,"c":4},{"p":"SNRPG","s":"neg","x0":0.0,"x1":0.1,"c":5},{"p":"SNRPG","s":"neg","x0":0.1,"x1":0.28,"c":7},{"p":"SNRPG","s":"neg","x0":0.28,"x1":0.49,"c":2},{"p":"SNRPG","s":"neg","x0":0.49,"x1":0.62,"c":3},{"p":"SNRPG","s":"neg","x0":0.62,"x1":0.8,"c":5},{"p":"SNRPG","s":"neg","x0":0.8,"x1":0.97,"c":3},{"p":"SNRPG","s":"neg","x0":0.97,"x1":1.1,"c":2},{"p":"SNRPG","s":"neg","x0":1.1,"x1":1.3,"c":1},{"p":"SNRPG","s":"neg","x0":1.3,"x1":1.53,"c":2},{"p":"SNRPG","s":"neg","x0":1.53,"x1":1.8,"c":1},{"p":"SNRPG","s":"neg","x0":1.8,"x1":2.0,"c":2},{"p":"SNRPG","s":"neg","x0":2.29,"x1":2.43,"c":1},{"p":"SNRPG","s":"neg","x0":2.57,"x1":2.78,"c":1},
    {"p":"SRSF7","s":"pos","x0":-1.93,"x1":-1.68,"c":1},{"p":"SRSF7","s":"pos","x0":-1.68,"x1":-1.52,"c":3},{"p":"SRSF7","s":"pos","x0":-1.52,"x1":-1.31,"c":4},{"p":"SRSF7","s":"pos","x0":-1.31,"x1":-1.17,"c":3},{"p":"SRSF7","s":"pos","x0":-1.17,"x1":-0.99,"c":7},{"p":"SRSF7","s":"pos","x0":-0.99,"x1":-0.83,"c":8},{"p":"SRSF7","s":"pos","x0":-0.83,"x1":-0.62,"c":11},{"p":"SRSF7","s":"pos","x0":-0.62,"x1":-0.48,"c":16},{"p":"SRSF7","s":"pos","x0":-0.48,"x1":-0.28,"c":16},{"p":"SRSF7","s":"pos","x0":-0.28,"x1":-0.17,"c":13},{"p":"SRSF7","s":"pos","x0":-0.17,"x1":0.0,"c":17},{"p":"SRSF7","s":"pos","x0":0.0,"x1":0.14,"c":14},{"p":"SRSF7","s":"pos","x0":0.14,"x1":0.28,"c":12},{"p":"SRSF7","s":"pos","x0":0.28,"x1":0.41,"c":10},{"p":"SRSF7","s":"pos","x0":0.41,"x1":0.55,"c":8},{"p":"SRSF7","s":"pos","x0":0.55,"x1":0.69,"c":4},{"p":"SRSF7","s":"pos","x0":0.69,"x1":0.83,"c":4},{"p":"SRSF7","s":"pos","x0":0.83,"x1":0.94,"c":1},{"p":"SRSF7","s":"pos","x0":1.03,"x1":1.21,"c":2},
    {"p":"SRSF7","s":"neg","x0":-0.9,"x1":-0.76,"c":1},{"p":"SRSF7","s":"neg","x0":-0.76,"x1":-0.55,"c":4},{"p":"SRSF7","s":"neg","x0":-0.55,"x1":-0.41,"c":2},{"p":"SRSF7","s":"neg","x0":-0.41,"x1":-0.25,"c":5},{"p":"SRSF7","s":"neg","x0":-0.25,"x1":-0.14,"c":3},{"p":"SRSF7","s":"neg","x0":-0.14,"x1":0.0,"c":2},{"p":"SRSF7","s":"neg","x0":0.0,"x1":0.14,"c":2},{"p":"SRSF7","s":"neg","x0":0.14,"x1":0.3,"c":4},{"p":"SRSF7","s":"neg","x0":0.3,"x1":0.48,"c":2},{"p":"SRSF7","s":"neg","x0":0.48,"x1":0.9,"c":1},{"p":"SRSF7","s":"neg","x0":0.9,"x1":1.1,"c":1},{"p":"SRSF7","s":"neg","x0":1.1,"x1":1.35,"c":2},{"p":"SRSF7","s":"neg","x0":1.35,"x1":1.45,"c":1},{"p":"SRSF7","s":"neg","x0":1.72,"x1":2.13,"c":1}
  ],
  "hn": [
    {"p":"SMNDC1","s":"pos","g":"down","x":-1.87,"y":9.6,"t":"22"},{"p":"SMNDC1","s":"pos","g":"up","x":1.99,"y":9.6,"t":"1"},
    {"p":"SMNDC1","s":"neg","g":"down","x":-1.87,"y":2.0,"t":"1"},{"p":"SMNDC1","s":"neg","g":"up","x":1.99,"y":2.0,"t":"1"},
    {"p":"SNRPA1","s":"pos","g":"down","x":-1.9,"y":21,"t":"62"},{"p":"SNRPA1","s":"pos","g":"up","x":2.08,"y":21,"t":"15"},
    {"p":"SNRPA1","s":"neg","g":"down","x":-2.17,"y":7.8,"t":"2"},{"p":"SNRPA1","s":"neg","g":"up","x":2.17,"y":7.8,"t":"16"},
    {"p":"SNRPG","s":"pos","g":"down","x":-1.93,"y":25.2,"t":"115"},{"p":"SNRPG","s":"pos","g":"up","x":2.0,"y":25.2,"t":"23"},
    {"p":"SNRPG","s":"neg","g":"down","x":-2.0,"y":4.55,"t":"5"},{"p":"SNRPG","s":"neg","g":"up","x":2.0,"y":4.55,"t":"14"},
    {"p":"SRSF7","s":"pos","g":"down","x":-1.88,"y":10.2,"t":"27"},{"p":"SRSF7","s":"pos","g":"up","x":1.91,"y":10.2,"t":"3"},
    {"p":"SRSF7","s":"neg","g":"down","x":-1.95,"y":3.3,"t":"0"},{"p":"SRSF7","s":"neg","g":"up","x":1.91,"y":3.3,"t":"3"}
  ]
},
"columns": 4,
"align": "each",
"spacing": {"row": 11, "column": 10},
"concat": [
  {
    "width": 147, "height": 147,
    "layer": [
      {"data": {"name": "env"}, "transform": [{"filter": "datum.p === 'SMNDC1' && datum.g === 'pos'"}], "mark": {"type": "area", "color": "#3a54a4", "opacity": 1},
       "encoding": {
        "x": {"field": "x", "type": "quantitative", "scale": {"domain": [-1.1, 1.1], "nice": false, "zero": false}, "axis": {"values": [-1, 0, 1], "title": "Inclusion Difference", "titleFontSize": 18.5, "labelPadding": -1.4, "titlePadding": 4.8}},
        "y": {"field": "y", "type": "quantitative", "scale": {"domain": [0, 275], "nice": false}, "axis": {"values": [0, 100, 200], "title": "-Log10 Padj", "titleFontSize": 23, "labelPadding": 5, "titlePadding": 3}}}},
      {"data": {"name": "vp"}, "transform": [{"filter": "datum.p === 'SMNDC1' && (datum.g === 'pos' || datum.g === 'neg')"}], "mark": {"type": "point", "filled": true, "opacity": 1, "size": 22}, "encoding": {"x": {"field": "x", "type": "quantitative"}, "y": {"field": "y", "type": "quantitative"}, "color": {"condition": {"test": "datum.g === 'neg'", "value": "#f8a31b"}, "value": "#3a54a4"}}},
      {"data": {"name": "env"}, "transform": [{"filter": "datum.p === 'SMNDC1' && datum.g === 'black'"}], "mark": {"type": "area", "color": "#000000", "opacity": 1}, "encoding": {"x": {"field": "x", "type": "quantitative"}, "y": {"field": "y", "type": "quantitative"}}},
      {"data": {"name": "vp"}, "transform": [{"filter": "datum.p === 'SMNDC1' && (datum.g === 'grey' || datum.g === 'black')"}], "mark": {"type": "point", "filled": true, "opacity": 1, "size": 6}, "encoding": {"x": {"field": "x", "type": "quantitative"}, "y": {"field": "y", "type": "quantitative"}, "color": {"condition": {"test": "datum.g === 'grey'", "value": "#8c8c8c"}, "value": "#000000"}}},
      {"data": {"name": "vn"}, "transform": [{"filter": "datum.p === 'SMNDC1'"}], "mark": {"type": "text", "fontSize": 20, "baseline": "middle"}, "encoding": {"x": {"field": "x", "type": "quantitative"}, "y": {"field": "y", "type": "quantitative"}, "text": {"field": "t"}, "color": {"condition": {"test": "datum.g === 'neg'", "value": "#f15a2b"}, "value": "#2e3a94"}}},
      {"data": {"values": [{"t": "SMNDC1"}]}, "mark": {"type": "text", "fontSize": 23, "baseline": "alphabetic", "color": "#231f20"}, "encoding": {"x": {"datum": 0.142}, "y": {"datum": 278.8}, "text": {"field": "t"}}},
      {"data": {"values": [{"t": "E"}]}, "mark": {"type": "text", "fontSize": 22, "fontWeight": "bold", "baseline": "middle", "color": "#231f20"}, "encoding": {"x": {"datum": -2.499}, "y": {"datum": 349}, "text": {"field": "t"}}},
      {"data": {"values": [{"t": "i)"}]}, "mark": {"type": "text", "fontSize": 22, "baseline": "middle", "color": "#231f20"}, "encoding": {"x": {"datum": -2.11}, "y": {"datum": 307.8}, "text": {"field": "t"}}},
      {"data": {"values": [{"t": "siS"}]}, "mark": {"type": "text", "fontSize": 17, "angle": 270, "align": "left", "baseline": "middle", "color": "#231f20"}, "encoding": {"x": {"datum": -0.965}, "y": {"datum": 331}, "text": {"field": "t"}}},
      {"data": {"values": [{"t": "si"}]}, "mark": {"type": "text", "fontSize": 17, "angle": 270, "align": "left", "baseline": "middle", "color": "#231f20"}, "encoding": {"x": {"datum": -0.427}, "y": {"datum": 355.5}, "text": {"field": "t"}}},
      {"data": {"values": [{"t": "siS"}]}, "mark": {"type": "text", "fontSize": 17, "angle": 270, "align": "left", "baseline": "middle", "color": "#231f20"}, "encoding": {"x": {"datum": 0.127}, "y": {"datum": 340.5}, "text": {"field": "t"}}},
      {"data": {"values": [{"t": "s"}]}, "mark": {"type": "text", "fontSize": 17, "angle": 270, "align": "left", "baseline": "middle", "color": "#231f20"}, "encoding": {"x": {"datum": 0.711}, "y": {"datum": 368.6}, "text": {"field": "t"}}}
    ]
  },
  {
    "width": 147, "height": 147,
    "layer": [
      {"data": {"name": "env"}, "transform": [{"filter": "datum.p === 'SNRPA1' && datum.g === 'pos'"}], "mark": {"type": "area", "color": "#3a54a4", "opacity": 1},
       "encoding": {
        "x": {"field": "x", "type": "quantitative", "scale": {"domain": [-1.14, 1.09], "nice": false, "zero": false}, "axis": {"values": [-1, 0, 1], "title": "Inclusion Difference", "titleFontSize": 18.5, "labelPadding": -1.4, "titlePadding": 4.8}},
        "y": {"field": "y", "type": "quantitative", "scale": {"domain": [0, 250], "nice": false}, "axis": {"values": [0, 50, 100, 150, 200], "title": "-Log10 Padj", "titleFontSize": 23, "labelPadding": 2, "titlePadding": 16}}}},
      {"data": {"name": "env"}, "transform": [{"filter": "datum.p === 'SNRPA1' && datum.g === 'neg'"}], "mark": {"type": "area", "color": "#f8a31b", "opacity": 1}, "encoding": {"x": {"field": "x", "type": "quantitative"}, "y": {"field": "y", "type": "quantitative"}}},
      {"data": {"name": "vp"}, "transform": [{"filter": "datum.p === 'SNRPA1' && (datum.g === 'pos' || datum.g === 'neg')"}], "mark": {"type": "point", "filled": true, "opacity": 1, "size": 22}, "encoding": {"x": {"field": "x", "type": "quantitative"}, "y": {"field": "y", "type": "quantitative"}, "color": {"condition": {"test": "datum.g === 'neg'", "value": "#f8a31b"}, "value": "#3a54a4"}}},
      {"data": {"name": "env"}, "transform": [{"filter": "datum.p === 'SNRPA1' && datum.g === 'black'"}], "mark": {"type": "area", "color": "#000000", "opacity": 1}, "encoding": {"x": {"field": "x", "type": "quantitative"}, "y": {"field": "y", "type": "quantitative"}}},
      {"data": {"name": "vp"}, "transform": [{"filter": "datum.p === 'SNRPA1' && (datum.g === 'grey' || datum.g === 'black')"}], "mark": {"type": "point", "filled": true, "opacity": 1, "size": 6}, "encoding": {"x": {"field": "x", "type": "quantitative"}, "y": {"field": "y", "type": "quantitative"}, "color": {"condition": {"test": "datum.g === 'grey'", "value": "#8c8c8c"}, "value": "#000000"}}},
      {"data": {"name": "vn"}, "transform": [{"filter": "datum.p === 'SNRPA1'"}], "mark": {"type": "text", "fontSize": 20, "baseline": "middle"}, "encoding": {"x": {"field": "x", "type": "quantitative"}, "y": {"field": "y", "type": "quantitative"}, "text": {"field": "t"}, "color": {"condition": {"test": "datum.g === 'neg'", "value": "#f15a2b"}, "value": "#2e3a94"}}},
      {"data": {"values": [{"t": "SNRPA1"}]}, "mark": {"type": "text", "fontSize": 23, "baseline": "alphabetic", "color": "#231f20"}, "encoding": {"x": {"datum": 0.16}, "y": {"datum": 253.4}, "text": {"field": "t"}}},
      {"data": {"values": [{"t": "si"}]}, "mark": {"type": "text", "fontSize": 17, "angle": 270, "align": "left", "baseline": "middle", "color": "#231f20"}, "encoding": {"x": {"datum": 1.07}, "y": {"datum": 331}, "text": {"field": "t"}}}
    ]
  },
  {
    "width": 145, "height": 144,
    "layer": [
      {"data": {"name": "env"}, "transform": [{"filter": "datum.p === 'SNRPG' && datum.g === 'pos'"}], "mark": {"type": "area", "color": "#3a54a4", "opacity": 1},
       "encoding": {
        "x": {"field": "x", "type": "quantitative", "scale": {"domain": [-1.0, 1.1], "nice": false, "zero": false}, "axis": {"values": [-1, 0, 1], "title": "Inclusion Difference", "titleFontSize": 18.5, "labelPadding": -1.4, "titlePadding": 4.8, "labelFlush": 1, "labelFlushOffset": 3}},
        "y": {"field": "y", "type": "quantitative", "scale": {"domain": [0, 181], "nice": false}, "axis": {"values": [0, 50, 100, 150], "title": "-Log10 Padj", "titleFontSize": 23, "labelPadding": 1, "titlePadding": -1.5}}}},
      {"data": {"name": "env"}, "transform": [{"filter": "datum.p === 'SNRPG' && datum.g === 'neg'"}], "mark": {"type": "area", "color": "#f8a31b", "opacity": 1}, "encoding": {"x": {"field": "x", "type": "quantitative"}, "y": {"field": "y", "type": "quantitative"}}},
      {"data": {"name": "vp"}, "transform": [{"filter": "datum.p === 'SNRPG' && (datum.g === 'pos' || datum.g === 'neg')"}], "mark": {"type": "point", "filled": true, "opacity": 1, "size": 22}, "encoding": {"x": {"field": "x", "type": "quantitative"}, "y": {"field": "y", "type": "quantitative"}, "color": {"condition": {"test": "datum.g === 'neg'", "value": "#f8a31b"}, "value": "#3a54a4"}}},
      {"data": {"name": "env"}, "transform": [{"filter": "datum.p === 'SNRPG' && datum.g === 'black'"}], "mark": {"type": "area", "color": "#000000", "opacity": 1}, "encoding": {"x": {"field": "x", "type": "quantitative"}, "y": {"field": "y", "type": "quantitative"}}},
      {"data": {"name": "vp"}, "transform": [{"filter": "datum.p === 'SNRPG' && (datum.g === 'grey' || datum.g === 'black')"}], "mark": {"type": "point", "filled": true, "opacity": 1, "size": 6}, "encoding": {"x": {"field": "x", "type": "quantitative"}, "y": {"field": "y", "type": "quantitative"}, "color": {"condition": {"test": "datum.g === 'grey'", "value": "#8c8c8c"}, "value": "#000000"}}},
      {"data": {"name": "vn"}, "transform": [{"filter": "datum.p === 'SNRPG'"}], "mark": {"type": "text", "fontSize": 20, "baseline": "middle"}, "encoding": {"x": {"field": "x", "type": "quantitative"}, "y": {"field": "y", "type": "quantitative"}, "text": {"field": "t"}, "color": {"condition": {"test": "datum.g === 'neg'", "value": "#f15a2b"}, "value": "#2e3a94"}}},
      {"data": {"values": [{"t": "SNRPG"}]}, "mark": {"type": "text", "fontSize": 23, "baseline": "alphabetic", "color": "#231f20"}, "encoding": {"x": {"datum": 0.1}, "y": {"datum": 183.5}, "text": {"field": "t"}}}
    ]
  },
  {
    "width": 146, "height": 144,
    "layer": [
      {"data": {"name": "env"}, "transform": [{"filter": "datum.p === 'SRSF7' && datum.g === 'pos'"}], "mark": {"type": "area", "color": "#3a54a4", "opacity": 1},
       "encoding": {
        "x": {"field": "x", "type": "quantitative", "scale": {"domain": [-1.0, 1.1], "nice": false, "zero": false}, "axis": {"values": [-1, 0, 1], "title": "Inclusion Difference", "titleFontSize": 18.5, "labelPadding": -1.4, "titlePadding": 4.8, "labelFlush": 1, "labelFlushOffset": 3}},
        "y": {"field": "y", "type": "quantitative", "scale": {"domain": [0, 119], "nice": false}, "axis": {"values": [0, 30, 60, 90], "title": "-Log10 Padj", "titleFontSize": 23, "labelPadding": 2, "titlePadding": 5.4}}}},
      {"data": {"name": "env"}, "transform": [{"filter": "datum.p === 'SRSF7' && datum.g === 'neg'"}], "mark": {"type": "area", "color": "#f8a31b", "opacity": 1}, "encoding": {"x": {"field": "x", "type": "quantitative"}, "y": {"field": "y", "type": "quantitative"}}},
      {"data": {"name": "vp"}, "transform": [{"filter": "datum.p === 'SRSF7' && (datum.g === 'pos' || datum.g === 'neg')"}], "mark": {"type": "point", "filled": true, "opacity": 1, "size": 22}, "encoding": {"x": {"field": "x", "type": "quantitative"}, "y": {"field": "y", "type": "quantitative"}, "color": {"condition": {"test": "datum.g === 'neg'", "value": "#f8a31b"}, "value": "#3a54a4"}}},
      {"data": {"name": "env"}, "transform": [{"filter": "datum.p === 'SRSF7' && datum.g === 'black'"}], "mark": {"type": "area", "color": "#000000", "opacity": 1}, "encoding": {"x": {"field": "x", "type": "quantitative"}, "y": {"field": "y", "type": "quantitative"}}},
      {"data": {"name": "vp"}, "transform": [{"filter": "datum.p === 'SRSF7' && (datum.g === 'grey' || datum.g === 'black')"}], "mark": {"type": "point", "filled": true, "opacity": 1, "size": 6}, "encoding": {"x": {"field": "x", "type": "quantitative"}, "y": {"field": "y", "type": "quantitative"}, "color": {"condition": {"test": "datum.g === 'grey'", "value": "#8c8c8c"}, "value": "#000000"}}},
      {"data": {"name": "vn"}, "transform": [{"filter": "datum.p === 'SRSF7'"}], "mark": {"type": "text", "fontSize": 20, "baseline": "middle"}, "encoding": {"x": {"field": "x", "type": "quantitative"}, "y": {"field": "y", "type": "quantitative"}, "text": {"field": "t"}, "color": {"condition": {"test": "datum.g === 'neg'", "value": "#f15a2b"}, "value": "#2e3a94"}}},
      {"data": {"values": [{"t": "SRSF7"}]}, "mark": {"type": "text", "fontSize": 23, "baseline": "alphabetic", "color": "#231f20"}, "encoding": {"x": {"datum": 0.003}, "y": {"datum": 120.7}, "text": {"field": "t"}}},
      {"data": {"values": [{"t": "neg"}]}, "mark": {"type": "point", "filled": true, "opacity": 1, "size": 230, "color": "#f8a31b"}, "encoding": {"x": {"datum": 1.46}, "y": {"datum": 88.4}}},
      {"data": {"values": [{"t": "pos"}]}, "mark": {"type": "point", "filled": true, "opacity": 1, "size": 230, "color": "#3a54a4"}, "encoding": {"x": {"datum": 1.46}, "y": {"datum": 36.4}}},
      {"data": {"values": [{"t": "Sign. neg\nIR difference"}]}, "mark": {"type": "text", "fontSize": 21, "align": "left", "baseline": "middle", "lineBreak": "\n", "lineHeight": 23, "color": "#231f20"}, "encoding": {"x": {"datum": 1.776}, "y": {"datum": 95.9}, "text": {"field": "t"}}},
      {"data": {"values": [{"t": "Sign. pos\nIR difference"}]}, "mark": {"type": "text", "fontSize": 21, "align": "left", "baseline": "middle", "lineBreak": "\n", "lineHeight": 23, "color": "#231f20"}, "encoding": {"x": {"datum": 1.776}, "y": {"datum": 43.8}, "text": {"field": "t"}}}
    ]
  },
  {
    "vconcat": [
      {
        "width": 145, "height": 100,
        "layer": [
          {"data": {"name": "hb"}, "transform": [{"filter": "datum.p === 'SMNDC1' && datum.s === 'pos'"}], "mark": {"type": "rect", "color": "#3a54a4", "stroke": "#3a54a4", "strokeWidth": 0.6},
           "encoding": {
            "x": {"field": "x0", "type": "quantitative", "scale": {"domain": [-3, 3], "nice": false, "zero": false}, "axis": {"values": [-2, 0, 2], "labels": false, "title": null}},
            "x2": {"field": "x1"},
            "y": {"field": "c", "type": "quantitative", "scale": {"domain": [0, 16], "nice": false}, "axis": {"values": [0, 8, 16], "title": "Count", "titleFontSize": 21, "tickSize": 2, "labelPadding": 1, "titlePadding": 5}},
            "y2": {"datum": 0}}},
          {"data": {"values": [{}]}, "mark": {"type": "rule", "color": "#1fa348", "strokeWidth": 2.2, "strokeDash": [2, 2]}, "encoding": {"x": {"datum": -1}}},
          {"data": {"values": [{}]}, "mark": {"type": "rule", "color": "#000000", "strokeWidth": 2.2, "strokeDash": [2, 2]}, "encoding": {"x": {"datum": 0}}},
          {"data": {"values": [{}]}, "mark": {"type": "rule", "color": "#e8212b", "strokeWidth": 2.2, "strokeDash": [2, 2]}, "encoding": {"x": {"datum": 1}}},
          {"data": {"name": "hn"}, "transform": [{"filter": "datum.p === 'SMNDC1' && datum.s === 'pos'"}], "mark": {"type": "text", "fontSize": 21, "baseline": "middle"}, "encoding": {"x": {"field": "x", "type": "quantitative"}, "y": {"field": "y", "type": "quantitative"}, "text": {"field": "t"}, "color": {"condition": {"test": "datum.g === 'down'", "value": "#1ea14a"}, "value": "#e8212b"}}},
          {"data": {"values": [{"t": "ii)"}]}, "mark": {"type": "text", "fontSize": 22, "baseline": "middle", "color": "#231f20"}, "encoding": {"x": {"datum": -5.72}, "y": {"datum": 18.9}, "text": {"field": "t"}}}
        ]
      },
      {
        "width": 145, "height": 100,
        "layer": [
          {"data": {"name": "hb"}, "transform": [{"filter": "datum.p === 'SMNDC1' && datum.s === 'neg'"}], "mark": {"type": "rect", "color": "#f8a31b", "stroke": "#f8a31b", "strokeWidth": 0.6},
           "encoding": {
            "x": {"field": "x0", "type": "quantitative", "scale": {"domain": [-3, 3], "nice": false, "zero": false}, "axis": {"values": [-2, 0, 2], "title": "Log2 FC", "titleFontSize": 21, "labelPadding": 1.3, "titlePadding": 3.3}},
            "x2": {"field": "x1"},
            "y": {"field": "c", "type": "quantitative", "scale": {"domain": [0, 3.1], "nice": false}, "axis": {"values": [0, 2], "title": "Count", "titleFontSize": 21, "tickSize": 2, "labelPadding": 1, "titlePadding": 15}},
            "y2": {"datum": 0}}},
          {"data": {"values": [{}]}, "mark": {"type": "rule", "color": "#1fa348", "strokeWidth": 2.2, "strokeDash": [2, 2]}, "encoding": {"x": {"datum": -1}}},
          {"data": {"values": [{}]}, "mark": {"type": "rule", "color": "#000000", "strokeWidth": 2.2, "strokeDash": [2, 2]}, "encoding": {"x": {"datum": 0}}},
          {"data": {"values": [{}]}, "mark": {"type": "rule", "color": "#e8212b", "strokeWidth": 2.2, "strokeDash": [2, 2]}, "encoding": {"x": {"datum": 1}}},
          {"data": {"name": "hn"}, "transform": [{"filter": "datum.p === 'SMNDC1' && datum.s === 'neg'"}], "mark": {"type": "text", "fontSize": 21, "baseline": "middle"}, "encoding": {"x": {"field": "x", "type": "quantitative"}, "y": {"field": "y", "type": "quantitative"}, "text": {"field": "t"}, "color": {"condition": {"test": "datum.g === 'down'", "value": "#1ea14a"}, "value": "#e8212b"}}}
        ]
      }
    ],
    "spacing": 18.3, "bounds": "flush"
  },
  {
    "vconcat": [
      {
        "width": 145, "height": 100,
        "layer": [
          {"data": {"name": "hb"}, "transform": [{"filter": "datum.p === 'SNRPA1' && datum.s === 'pos'"}], "mark": {"type": "rect", "color": "#3a54a4", "stroke": "#3a54a4", "strokeWidth": 0.6},
           "encoding": {
            "x": {"field": "x0", "type": "quantitative", "scale": {"domain": [-3, 3], "nice": false, "zero": false}, "axis": {"values": [-2, 0, 2], "labels": false, "title": null}},
            "x2": {"field": "x1"},
            "y": {"field": "c", "type": "quantitative", "scale": {"domain": [0, 35], "nice": false}, "axis": {"values": [0, 10, 20, 30], "title": "Count", "titleFontSize": 21, "labelPadding": 3.7, "titlePadding": 17}},
            "y2": {"datum": 0}}},
          {"data": {"values": [{}]}, "mark": {"type": "rule", "color": "#1fa348", "strokeWidth": 2.2, "strokeDash": [2, 2]}, "encoding": {"x": {"datum": -1}}},
          {"data": {"values": [{}]}, "mark": {"type": "rule", "color": "#000000", "strokeWidth": 2.2, "strokeDash": [2, 2]}, "encoding": {"x": {"datum": 0}}},
          {"data": {"values": [{}]}, "mark": {"type": "rule", "color": "#e8212b", "strokeWidth": 2.2, "strokeDash": [2, 2]}, "encoding": {"x": {"datum": 1}}},
          {"data": {"name": "hn"}, "transform": [{"filter": "datum.p === 'SNRPA1' && datum.s === 'pos'"}], "mark": {"type": "text", "fontSize": 21, "baseline": "middle"}, "encoding": {"x": {"field": "x", "type": "quantitative"}, "y": {"field": "y", "type": "quantitative"}, "text": {"field": "t"}, "color": {"condition": {"test": "datum.g === 'down'", "value": "#1ea14a"}, "value": "#e8212b"}}}
        ]
      },
      {
        "width": 145, "height": 100,
        "layer": [
          {"data": {"name": "hb"}, "transform": [{"filter": "datum.p === 'SNRPA1' && datum.s === 'neg'"}], "mark": {"type": "rect", "color": "#f8a31b", "stroke": "#f8a31b", "strokeWidth": 0.6},
           "encoding": {
            "x": {"field": "x0", "type": "quantitative", "scale": {"domain": [-3, 3], "nice": false, "zero": false}, "axis": {"values": [-2, 0, 2], "title": "Log2 FC", "titleFontSize": 21, "labelPadding": 1.3, "titlePadding": 3.3}},
            "x2": {"field": "x1"},
            "y": {"field": "c", "type": "quantitative", "scale": {"domain": [0, 12], "nice": false}, "axis": {"values": [0, 6, 12], "title": "Count", "titleFontSize": 21, "labelPadding": 3.7, "titlePadding": 17}},
            "y2": {"datum": 0}}},
          {"data": {"values": [{}]}, "mark": {"type": "rule", "color": "#1fa348", "strokeWidth": 2.2, "strokeDash": [2, 2]}, "encoding": {"x": {"datum": -1}}},
          {"data": {"values": [{}]}, "mark": {"type": "rule", "color": "#000000", "strokeWidth": 2.2, "strokeDash": [2, 2]}, "encoding": {"x": {"datum": 0}}},
          {"data": {"values": [{}]}, "mark": {"type": "rule", "color": "#e8212b", "strokeWidth": 2.2, "strokeDash": [2, 2]}, "encoding": {"x": {"datum": 1}}},
          {"data": {"name": "hn"}, "transform": [{"filter": "datum.p === 'SNRPA1' && datum.s === 'neg'"}], "mark": {"type": "text", "fontSize": 21, "baseline": "middle"}, "encoding": {"x": {"field": "x", "type": "quantitative"}, "y": {"field": "y", "type": "quantitative"}, "text": {"field": "t"}, "color": {"condition": {"test": "datum.g === 'down'", "value": "#1ea14a"}, "value": "#e8212b"}}}
        ]
      }
    ],
    "spacing": 18.3, "bounds": "flush"
  },
  {
    "vconcat": [
      {
        "width": 145, "height": 100,
        "layer": [
          {"data": {"name": "hb"}, "transform": [{"filter": "datum.p === 'SNRPG' && datum.s === 'pos'"}], "mark": {"type": "rect", "color": "#3a54a4", "stroke": "#3a54a4", "strokeWidth": 0.6},
           "encoding": {
            "x": {"field": "x0", "type": "quantitative", "scale": {"domain": [-3, 3], "nice": false, "zero": false}, "axis": {"values": [-2, 0, 2], "labels": false, "title": null}},
            "x2": {"field": "x1"},
            "y": {"field": "c", "type": "quantitative", "scale": {"domain": [0, 42], "nice": false}, "axis": {"values": [0, 20, 40], "title": "Count", "titleFontSize": 21, "labelPadding": 3, "titlePadding": 6}},
            "y2": {"datum": 0}}},
          {"data": {"values": [{}]}, "mark": {"type": "rule", "color": "#1fa348", "strokeWidth": 2.2, "strokeDash": [2, 2]}, "encoding": {"x": {"datum": -1}}},
          {"data": {"values": [{}]}, "mark": {"type": "rule", "color": "#000000", "strokeWidth": 2.2, "strokeDash": [2, 2]}, "encoding": {"x": {"datum": 0}}},
          {"data": {"values": [{}]}, "mark": {"type": "rule", "color": "#e8212b", "strokeWidth": 2.2, "strokeDash": [2, 2]}, "encoding": {"x": {"datum": 1}}},
          {"data": {"name": "hn"}, "transform": [{"filter": "datum.p === 'SNRPG' && datum.s === 'pos'"}], "mark": {"type": "text", "fontSize": 21, "baseline": "middle"}, "encoding": {"x": {"field": "x", "type": "quantitative"}, "y": {"field": "y", "type": "quantitative"}, "text": {"field": "t"}, "color": {"condition": {"test": "datum.g === 'down'", "value": "#1ea14a"}, "value": "#e8212b"}}}
        ]
      },
      {
        "width": 145, "height": 100,
        "layer": [
          {"data": {"name": "hb"}, "transform": [{"filter": "datum.p === 'SNRPG' && datum.s === 'neg'"}], "mark": {"type": "rect", "color": "#f8a31b", "stroke": "#f8a31b", "strokeWidth": 0.6},
           "encoding": {
            "x": {"field": "x0", "type": "quantitative", "scale": {"domain": [-3, 3], "nice": false, "zero": false}, "axis": {"values": [-2, 0, 2], "title": "Log2 FC", "titleFontSize": 21, "labelPadding": 1.3, "titlePadding": 3.3}},
            "x2": {"field": "x1"},
            "y": {"field": "c", "type": "quantitative", "scale": {"domain": [0, 7], "nice": false}, "axis": {"values": [0, 2, 4, 6], "title": "Count", "titleFontSize": 21, "labelPadding": 3, "titlePadding": 14.7}},
            "y2": {"datum": 0}}},
          {"data": {"values": [{}]}, "mark": {"type": "rule", "color": "#1fa348", "strokeWidth": 2.2, "strokeDash": [2, 2]}, "encoding": {"x": {"datum": -1}}},
          {"data": {"values": [{}]}, "mark": {"type": "rule", "color": "#000000", "strokeWidth": 2.2, "strokeDash": [2, 2]}, "encoding": {"x": {"datum": 0}}},
          {"data": {"values": [{}]}, "mark": {"type": "rule", "color": "#e8212b", "strokeWidth": 2.2, "strokeDash": [2, 2]}, "encoding": {"x": {"datum": 1}}},
          {"data": {"name": "hn"}, "transform": [{"filter": "datum.p === 'SNRPG' && datum.s === 'neg'"}], "mark": {"type": "text", "fontSize": 21, "baseline": "middle"}, "encoding": {"x": {"field": "x", "type": "quantitative"}, "y": {"field": "y", "type": "quantitative"}, "text": {"field": "t"}, "color": {"condition": {"test": "datum.g === 'down'", "value": "#1ea14a"}, "value": "#e8212b"}}}
        ]
      }
    ],
    "spacing": 18.3, "bounds": "flush"
  },
  {
    "vconcat": [
      {
        "width": 145, "height": 100,
        "layer": [
          {"data": {"name": "hb"}, "transform": [{"filter": "datum.p === 'SRSF7' && datum.s === 'pos'"}], "mark": {"type": "rect", "color": "#3a54a4", "stroke": "#3a54a4", "strokeWidth": 0.6},
           "encoding": {
            "x": {"field": "x0", "type": "quantitative", "scale": {"domain": [-3, 3], "nice": false, "zero": false}, "axis": {"values": [-2, 0, 2], "labels": false, "title": null}},
            "x2": {"field": "x1"},
            "y": {"field": "c", "type": "quantitative", "scale": {"domain": [0, 17], "nice": false}, "axis": {"values": [0, 8, 16], "title": "Count", "titleFontSize": 21, "labelPadding": 0, "titlePadding": 6}},
            "y2": {"datum": 0}}},
          {"data": {"values": [{}]}, "mark": {"type": "rule", "color": "#1fa348", "strokeWidth": 2.2, "strokeDash": [2, 2]}, "encoding": {"x": {"datum": -1}}},
          {"data": {"values": [{}]}, "mark": {"type": "rule", "color": "#000000", "strokeWidth": 2.2, "strokeDash": [2, 2]}, "encoding": {"x": {"datum": 0}}},
          {"data": {"values": [{}]}, "mark": {"type": "rule", "color": "#e8212b", "strokeWidth": 2.2, "strokeDash": [2, 2]}, "encoding": {"x": {"datum": 1}}},
          {"data": {"name": "hn"}, "transform": [{"filter": "datum.p === 'SRSF7' && datum.s === 'pos'"}], "mark": {"type": "text", "fontSize": 21, "baseline": "middle"}, "encoding": {"x": {"field": "x", "type": "quantitative"}, "y": {"field": "y", "type": "quantitative"}, "text": {"field": "t"}, "color": {"condition": {"test": "datum.g === 'down'", "value": "#1ea14a"}, "value": "#e8212b"}}}
        ]
      },
      {
        "width": 145, "height": 100,
        "layer": [
          {"data": {"name": "hb"}, "transform": [{"filter": "datum.p === 'SRSF7' && datum.s === 'neg'"}], "mark": {"type": "rect", "color": "#f8a31b", "stroke": "#f8a31b", "strokeWidth": 0.6},
           "encoding": {
            "x": {"field": "x0", "type": "quantitative", "scale": {"domain": [-3, 3], "nice": false, "zero": false}, "axis": {"values": [-2, 0, 2], "title": "Log2 FC", "titleFontSize": 21, "labelPadding": 1.3, "titlePadding": 3.3}},
            "x2": {"field": "x1"},
            "y": {"field": "c", "type": "quantitative", "scale": {"domain": [0, 5.1], "nice": false}, "axis": {"values": [0, 2, 4], "title": "Count", "titleFontSize": 21, "labelPadding": 0, "titlePadding": 15}},
            "y2": {"datum": 0}}},
          {"data": {"values": [{}]}, "mark": {"type": "rule", "color": "#1fa348", "strokeWidth": 2.2, "strokeDash": [2, 2]}, "encoding": {"x": {"datum": -1}}},
          {"data": {"values": [{}]}, "mark": {"type": "rule", "color": "#000000", "strokeWidth": 2.2, "strokeDash": [2, 2]}, "encoding": {"x": {"datum": 0}}},
          {"data": {"values": [{}]}, "mark": {"type": "rule", "color": "#e8212b", "strokeWidth": 2.2, "strokeDash": [2, 2]}, "encoding": {"x": {"datum": 1}}},
          {"data": {"name": "hn"}, "transform": [{"filter": "datum.p === 'SRSF7' && datum.s === 'neg'"}], "mark": {"type": "text", "fontSize": 21, "baseline": "middle"}, "encoding": {"x": {"field": "x", "type": "quantitative"}, "y": {"field": "y", "type": "quantitative"}, "text": {"field": "t"}, "color": {"condition": {"test": "datum.g === 'down'", "value": "#1ea14a"}, "value": "#e8212b"}}}
        ]
      }
    ],
    "spacing": 18.3, "bounds": "flush"
  }
]
}
